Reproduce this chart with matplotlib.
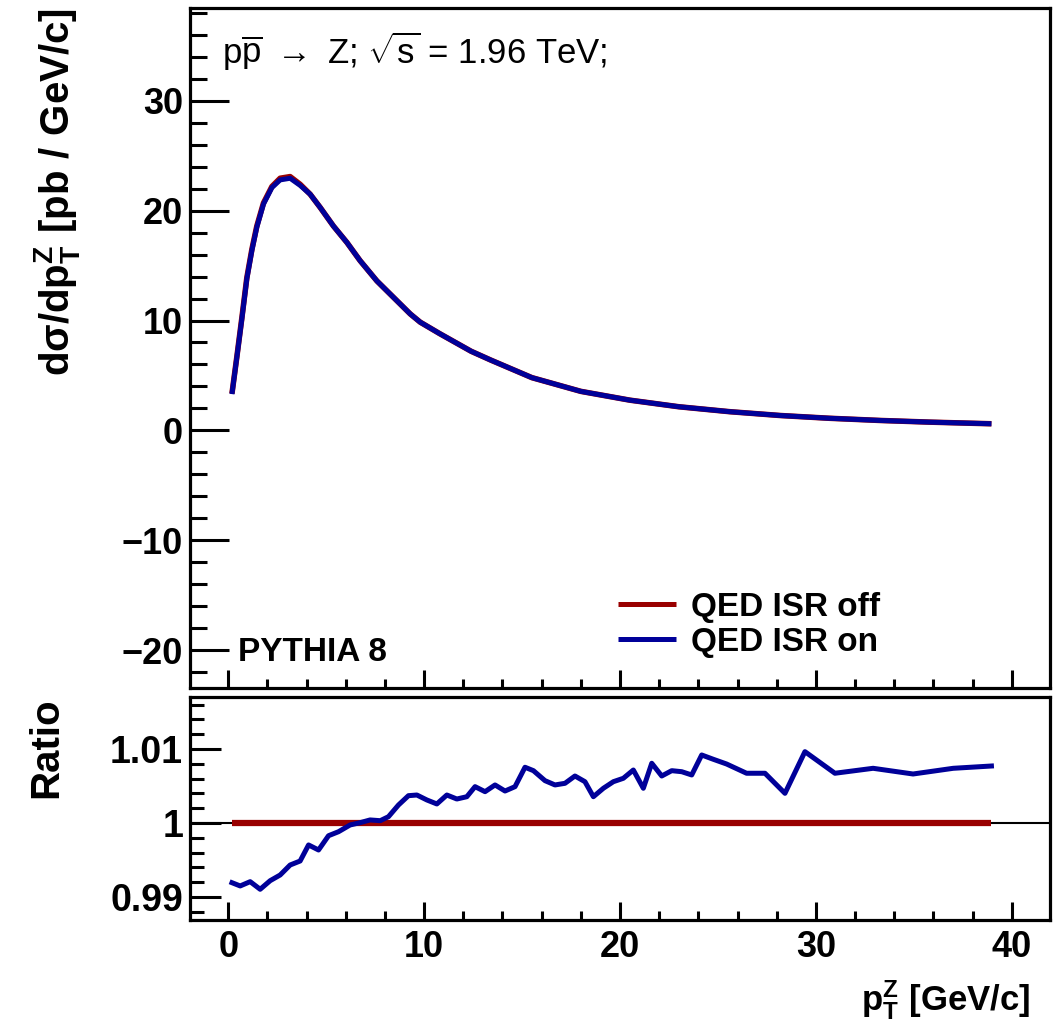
import numpy as np
import matplotlib
matplotlib.use('Agg')
import matplotlib.pyplot as plt
from matplotlib.ticker import MultipleLocator

plt.rcParams['font.family'] = ['Liberation Sans', 'DejaVu Sans']
plt.rcParams['font.weight'] = 'bold'
plt.rcParams['mathtext.fontset'] = 'custom'
plt.rcParams['mathtext.rm'] = 'Liberation Sans:weight=normal'
plt.rcParams['mathtext.bf'] = 'Liberation Sans:bold'
plt.rcParams['mathtext.it'] = 'Liberation Sans:italic'

# spectre dsigma/dpT
pt = [0.19, 0.44, 0.70, 0.95, 1.21, 1.46, 1.80, 2.23, 2.65, 3.16, 3.67, 4.18, 4.69, 5.37,
      6.06, 6.73, 7.59, 8.44, 9.29, 9.80, 10.8, 12.4, 13.4, 15.5, 18.0, 20.5, 23.0, 25.6,
      28.2, 30.7, 33.3, 35.8, 38.96]
xsec_off = [3.35, 6.7, 10.3, 13.9, 16.5, 18.6, 20.7, 22.2, 22.95, 23.1, 22.4, 21.5, 20.3, 18.6,
            17.1, 15.45, 13.6, 12.1, 10.6, 9.85, 8.8, 7.2, 6.4, 4.8, 3.55, 2.75, 2.15, 1.7,
            1.35, 1.1, 0.9, 0.75, 0.6]
xsec_on = [3.3, 6.65, 10.2, 13.8, 16.4, 18.5, 20.6, 22.1, 22.8, 22.95, 22.3, 21.5, 20.3, 18.6,
           17.1, 15.45, 13.6, 12.1, 10.6, 9.85, 8.8, 7.2, 6.4, 4.8, 3.55, 2.75, 2.15, 1.7,
           1.35, 1.1, 0.9, 0.75, 0.6]

# ratio on/off
pt_ratio = [0.19, 0.61, 1.12, 1.63, 2.14, 2.65, 3.16, 3.67, 4.10, 4.61, 5.12, 5.63, 6.22, 6.73,
            7.24, 7.76, 8.18, 8.69, 9.20, 9.63, 10.14, 10.65, 11.16, 11.67, 12.18, 12.60, 13.11,
            13.62, 14.13, 14.64, 15.15, 15.58, 16.17, 16.68, 17.19, 17.70, 18.21, 18.64, 19.15,
            19.66, 20.17, 20.68, 21.19, 21.62, 22.13, 22.64, 23.15, 23.66, 24.17, 24.76, 25.44,
            26.46, 27.40, 28.42, 29.44, 30.97, 32.92, 34.96, 37.01, 38.96]
ratio_on = [0.99193, 0.99149, 0.99207, 0.99104, 0.99220, 0.99297, 0.99432, 0.99486, 0.99703,
            0.99635, 0.99828, 0.99882, 0.99973, 1.00004, 1.00041, 1.00031, 1.00085, 1.00243,
            1.00369, 1.00378, 1.00311, 1.00257, 1.00378, 1.00324, 1.00355, 1.00491, 1.00423,
            1.00514, 1.00432, 1.00491, 1.00753, 1.00707, 1.00572, 1.00514, 1.00536, 1.00635,
            1.00558, 1.00355, 1.00469, 1.00558, 1.00604, 1.00716, 1.00469, 1.00807, 1.00635,
            1.00707, 1.00693, 1.00649, 1.00919, 1.00861, 1.00797, 1.00672, 1.00672, 1.00401,
            1.00964, 1.00672, 1.00739, 1.00662, 1.00739, 1.00770]
ratio_off = np.ones(len(pt_ratio))

red = '#990000'
blue = '#000099'

fig = plt.figure(figsize=(10.54, 10.23), dpi=100)
ax1 = fig.add_axes([0.1803, 0.3275, 0.8159, 0.6647])
ax2 = fig.add_axes([0.1803, 0.1007, 0.8159, 0.2180])

# panneau du haut
ax1.plot(pt, xsec_off, color=red, lw=4, label='QED ISR off', solid_capstyle='butt')
ax1.plot(pt, xsec_on, color=blue, lw=3.6, label='QED ISR on', solid_capstyle='butt')
ax1.set_xlim(-1.95, 41.95)
ax1.set_ylim(-23.45, 38.45)
ax1.yaxis.set_minor_locator(MultipleLocator(2))
ax1.xaxis.set_major_locator(MultipleLocator(10))
ax1.xaxis.set_minor_locator(MultipleLocator(2))
ax1.tick_params(axis='x', labelbottom=False)
ax1.set_yticks([-20, -10, 0, 10, 20, 30])
ax1.set_yticklabels(['\u221220', '\u221210', '0', '10', '20', '30'])
ax1.set_ylabel(r'$\mathbf{d\sigma/dp^{Z}_{T}\ [pb\ /\ GeV/c]}$', fontsize=29, loc='top')
ax1.yaxis.set_label_coords(-0.126, 1.0)

ax1.text(0.037, 0.918, r'$\mathrm{p\overline{p}}$ $\rightarrow$ Z; $\sqrt{\mathrm{s}}$ = 1.96 TeV;',
         transform=ax1.transAxes, fontsize=25, fontweight='normal', va='baseline')
ax1.text(0.0558, 0.0396, 'PYTHIA 8', transform=ax1.transAxes, fontsize=24, va='baseline')

leg = ax1.legend(loc='center left', bbox_to_anchor=(0.4977, 0.0932), frameon=False,
                 fontsize=24, handlelength=1.75, handletextpad=0.45, labelspacing=0.12,
                 borderpad=0, borderaxespad=0)
for h in leg.get_lines():
    h.set_linewidth(3.6)

# panneau ratio
ax2.axhline(1.0, color='black', lw=1.5)
ax2.plot(pt_ratio, ratio_off, color=red, lw=4.5, solid_capstyle='butt')
ax2.plot(pt_ratio, ratio_on, color=blue, lw=3.6)
ax2.set_xlim(-1.95, 41.95)
ax2.set_ylim(0.98689, 1.01703)
ax2.xaxis.set_major_locator(MultipleLocator(10))
ax2.xaxis.set_minor_locator(MultipleLocator(2))
ax2.set_yticks([0.99, 1.0, 1.01])
ax2.set_yticklabels(['0.99', '1', '1.01'])
ax2.yaxis.set_minor_locator(MultipleLocator(0.002))
ax2.set_ylabel('Ratio', fontsize=29, fontweight='bold', loc='top')
ax2.yaxis.set_label_coords(-0.145, 1.0)
ax2.set_xlabel(r'$\mathbf{p^{Z}_{T}\ [GeV/c]}$', fontsize=25, loc='right')
ax2.xaxis.set_label_coords(0.977, -0.26)

for ax in (ax1, ax2):
    for s in ax.spines.values():
        s.set_linewidth(2.3)
    ax.tick_params(which='both', direction='in', width=2.2, top=False, right=False)
    ax.tick_params(axis='x', which='major', length=13, pad=7)
    ax.tick_params(axis='x', which='minor', length=6.5)

ax1.tick_params(axis='y', which='major', length=28, labelsize=26, pad=5)
ax1.tick_params(axis='y', which='minor', length=12)
ax2.tick_params(axis='y', which='major', length=22, labelsize=27, pad=5)
ax2.tick_params(axis='y', which='minor', length=10)
ax2.tick_params(axis='x', labelsize=26)

fig.savefig('out.png', dpi=100)
